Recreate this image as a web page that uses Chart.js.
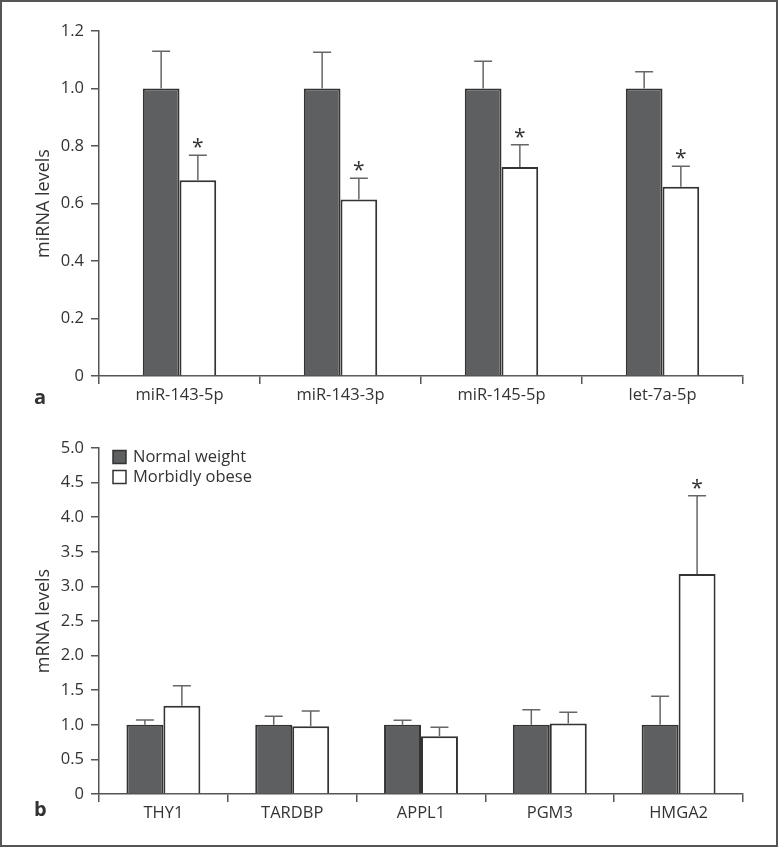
<!DOCTYPE html>
<html>
<head>
<meta charset="utf-8">
<script src="https://cdn.jsdelivr.net/npm/chart.js@4.4.1/dist/chart.umd.min.js"></script>
<style>
  html, body { margin: 0; padding: 0; background: #fff; }
  body { width: 778px; height: 847px; position: relative; overflow: hidden; font-family: "Open Sans", sans-serif; }
  .frame { position: absolute; left: 0; top: 0; width: 774px; height: 843px; border: 2px solid #555; }
  canvas { position: absolute; left: 0; }
  .panel { position: absolute; font-weight: bold; font-size: 20px; color: #333; line-height: 1; }
</style>
</head>
<body>
<div class="frame"></div>
<canvas id="chartA" width="778" height="420" style="top:0"></canvas>
<canvas id="chartB" width="778" height="427" style="top:420px"></canvas>
<div class="panel" style="left:34px; top:387px;">a</div>
<div class="panel" style="left:34px; top:799px;">b</div>
<script>
// panel a: miRNA
const categoriesA = ['miR-143-5p', 'miR-143-3p', 'miR-145-5p', 'let-7a-5p'];
const normalA = [1.0, 1.0, 1.0, 1.0];
const normalErrA = [0.13, 0.126, 0.095, 0.058];
const obeseA = [0.681, 0.614, 0.727, 0.658];
const obeseErrA = [0.087, 0.074, 0.077, 0.072];
const obeseStarA = [true, true, true, true];

// panel b: mRNA
const categoriesB = ['THY1', 'TARDBP', 'APPL1', 'PGM3', 'HMGA2'];
const normalB = [1.0, 1.0, 1.0, 1.0, 1.0];
const normalErrB = [0.07, 0.124, 0.067, 0.216, 0.414];
const obeseB = [1.274, 0.98, 0.835, 1.019, 3.18];
const obeseErrB = [0.289, 0.22, 0.13, 0.161, 1.13];
const obeseStarB = [false, false, false, false, true];

const seriesNames = ['Normal weight', 'Morbidly obese'];

const textColor = '#333';
const axisColor = '#555';
const darkFill = '#5e5f61';
const barBorder = '#333';
const font = { family: 'Open Sans', size: 16.5 };
const titleFont = { family: 'Open Sans', size: 18 };

// error bars + asterisks drawn from the data through the scales
const errorBars = {
    id: 'errorBars',
    afterDatasetsDraw(chart) {
        const ctx = chart.ctx;
        const y = chart.scales.y;
        chart.data.datasets.forEach((ds, di) => {
            const meta = chart.getDatasetMeta(di);
            meta.data.forEach((bar, i) => {
                const top = y.getPixelForValue(ds.data[i] + ds.errors[i]);
                const base = y.getPixelForValue(ds.data[i]);
                ctx.save();
                ctx.strokeStyle = '#666';
                ctx.lineWidth = 1.5;
                ctx.beginPath();
                ctx.moveTo(bar.x, base);
                ctx.lineTo(bar.x, top);
                ctx.moveTo(bar.x - 9, top);
                ctx.lineTo(bar.x + 9, top);
                ctx.stroke();
                if (ds.stars && ds.stars[i]) {
                    ctx.fillStyle = textColor;
                    ctx.font = '21px "Open Sans"';
                    ctx.textAlign = 'center';
                    ctx.textBaseline = 'alphabetic';
                    ctx.fillText('*', bar.x, top - 1);
                }
                ctx.restore();
            });
        });
    }
};

// legend inside plot area of panel b
const innerLegend = {
    id: 'innerLegend',
    afterDraw(chart, args, opts) {
        if (!opts.show) return;
        const ctx = chart.ctx;
        const x0 = chart.chartArea.left + 14;
        const y0 = chart.chartArea.top + 2.5;
        chart.data.datasets.forEach((ds, i) => {
            const yy = y0 + i * 20;
            ctx.save();
            ctx.fillStyle = ds.backgroundColor;
            ctx.strokeStyle = barBorder;
            ctx.lineWidth = 1.5;
            ctx.fillRect(x0, yy, 13, 13);
            ctx.strokeRect(x0, yy, 13, 13);
            ctx.fillStyle = textColor;
            ctx.font = '16.5px "Open Sans"';
            ctx.textBaseline = 'middle';
            ctx.fillText(ds.label, x0 + 20, yy + 7);
            ctx.restore();
        });
    }
};

function makeChart(id, labels, nVals, nErr, oVals, oErr, oStars, opts) {
    return new Chart(document.getElementById(id).getContext('2d'), {
        type: 'bar',
        data: {
            labels: labels,
            datasets: [
                {
                    label: seriesNames[0],
                    data: nVals,
                    errors: nErr,
                    backgroundColor: darkFill,
                    borderColor: barBorder,
                    borderWidth: 2,
                },
                {
                    label: seriesNames[1],
                    data: oVals,
                    errors: oErr,
                    stars: oStars,
                    backgroundColor: '#ffffff',
                    borderColor: barBorder,
                    borderWidth: 2,
                },
            ],
        },
        options: {
            responsive: false,
            animation: false,
            layout: { padding: { left: 0, right: 35, top: opts.top, bottom: 0 } },
            datasets: { bar: { categoryPercentage: opts.catPct, barPercentage: 1.0 } },
            plugins: {
                legend: { display: false },
                tooltip: { enabled: false },
                innerLegend: { show: opts.legend },
            },
            scales: {
                x: {
                    afterFit: (s) => { s.height = opts.xHeight; },
                    border: { color: axisColor, width: 1.5 },
                    grid: { drawOnChartArea: false, tickLength: 8, color: axisColor, lineWidth: 1.5 },
                    ticks: { color: textColor, font: font, padding: 1, maxRotation: 0 },
                },
                y: {
                    min: 0,
                    max: opts.max,
                    afterFit: (s) => { s.width = 99; },
                    border: { color: axisColor, width: 1.5 },
                    grid: { drawOnChartArea: false, tickLength: 8, color: axisColor, lineWidth: 1.5 },
                    ticks: {
                        stepSize: opts.step,
                        color: textColor,
                        font: font,
                        padding: 7,
                        callback: (v) => (v === 0 ? '0' : Number(v).toFixed(1)),
                    },
                    title: {
                        display: true,
                        text: opts.title,
                        color: textColor,
                        font: titleFont,
                        padding: { top: 33, bottom: 0 },
                    },
                },
            },
        },
        plugins: [errorBars, innerLegend],
    });
}

makeChart('chartA', categoriesA, normalA, normalErrA, obeseA, obeseErrA, obeseStarA,
    { top: 31, xHeight: 44, max: 1.2, step: 0.2, catPct: 0.456, title: 'miRNA levels', legend: false });
makeChart('chartB', categoriesB, normalB, normalErrB, obeseB, obeseErrB, obeseStarB,
    { top: 28, xHeight: 53, max: 5, step: 0.5, catPct: 0.574, title: 'mRNA levels', legend: true });
</script>
</body>
</html>
